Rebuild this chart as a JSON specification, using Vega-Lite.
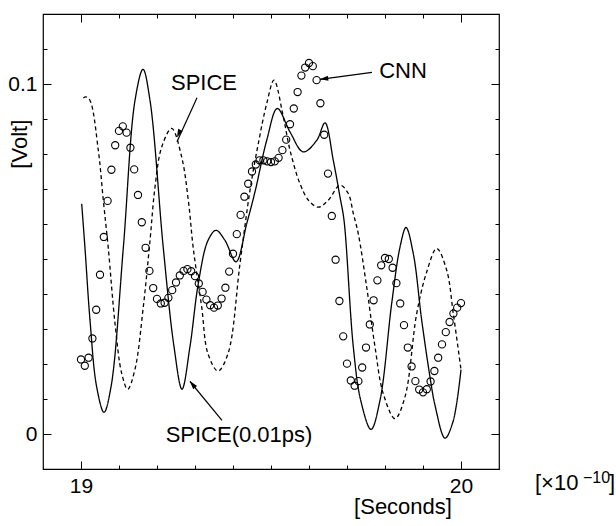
{
  "$schema": "https://vega.github.io/schema/vega-lite/v6.json",
  "autosize": {"type": "none"},
  "padding": {"left": 43, "top": 14, "right": 117, "bottom": 57},
  "width": 456,
  "height": 455,
  "background": "white",
  "config": {
    "view": {"stroke": "black", "strokeWidth": 1.2},
    "font": "Liberation Sans",
    "text": {"font": "Liberation Sans", "color": "black"}
  },
  "datasets": {
    "cnn": [
      {"t": 19.00, "v": 0.0213}, {"t": 19.01, "v": 0.0195}, {"t": 19.02, "v": 0.0218}, {"t": 19.03, "v": 0.0273},
      {"t": 19.04, "v": 0.0355}, {"t": 19.05, "v": 0.0455}, {"t": 19.06, "v": 0.0563}, {"t": 19.07, "v": 0.0666},
      {"t": 19.08, "v": 0.0755}, {"t": 19.09, "v": 0.0825}, {"t": 19.10, "v": 0.0866}, {"t": 19.11, "v": 0.0879},
      {"t": 19.12, "v": 0.0861}, {"t": 19.13, "v": 0.0818}, {"t": 19.14, "v": 0.0756}, {"t": 19.15, "v": 0.0683},
      {"t": 19.16, "v": 0.0605}, {"t": 19.17, "v": 0.0532}, {"t": 19.18, "v": 0.0466}, {"t": 19.19, "v": 0.0417},
      {"t": 19.20, "v": 0.0386}, {"t": 19.21, "v": 0.0373}, {"t": 19.22, "v": 0.0375}, {"t": 19.23, "v": 0.0389},
      {"t": 19.24, "v": 0.0411}, {"t": 19.25, "v": 0.0433}, {"t": 19.26, "v": 0.0453}, {"t": 19.27, "v": 0.0466},
      {"t": 19.28, "v": 0.0471}, {"t": 19.29, "v": 0.0465}, {"t": 19.30, "v": 0.0451}, {"t": 19.31, "v": 0.0430},
      {"t": 19.32, "v": 0.0406}, {"t": 19.33, "v": 0.0384}, {"t": 19.34, "v": 0.0368}, {"t": 19.35, "v": 0.0361},
      {"t": 19.36, "v": 0.0367}, {"t": 19.37, "v": 0.0387}, {"t": 19.38, "v": 0.0418}, {"t": 19.39, "v": 0.0464},
      {"t": 19.40, "v": 0.0515}, {"t": 19.41, "v": 0.0571}, {"t": 19.42, "v": 0.0626}, {"t": 19.43, "v": 0.0678},
      {"t": 19.44, "v": 0.0715}, {"t": 19.45, "v": 0.0750}, {"t": 19.46, "v": 0.0770}, {"t": 19.47, "v": 0.0782},
      {"t": 19.48, "v": 0.0782}, {"t": 19.49, "v": 0.0779}, {"t": 19.50, "v": 0.0777}, {"t": 19.51, "v": 0.0779},
      {"t": 19.52, "v": 0.0789}, {"t": 19.53, "v": 0.0811}, {"t": 19.54, "v": 0.0841}, {"t": 19.55, "v": 0.0885},
      {"t": 19.56, "v": 0.0930}, {"t": 19.57, "v": 0.0977}, {"t": 19.58, "v": 0.1024}, {"t": 19.59, "v": 0.1047},
      {"t": 19.60, "v": 0.1060}, {"t": 19.61, "v": 0.1051}, {"t": 19.62, "v": 0.1011}, {"t": 19.63, "v": 0.0945},
      {"t": 19.64, "v": 0.0855}, {"t": 19.65, "v": 0.0744}, {"t": 19.66, "v": 0.0623}, {"t": 19.67, "v": 0.0498},
      {"t": 19.68, "v": 0.0380}, {"t": 19.69, "v": 0.0279}, {"t": 19.70, "v": 0.0201}, {"t": 19.71, "v": 0.0153},
      {"t": 19.72, "v": 0.0138}, {"t": 19.73, "v": 0.0151}, {"t": 19.74, "v": 0.0190}, {"t": 19.75, "v": 0.0247},
      {"t": 19.76, "v": 0.0313}, {"t": 19.77, "v": 0.0382}, {"t": 19.78, "v": 0.0439}, {"t": 19.79, "v": 0.0482},
      {"t": 19.80, "v": 0.0503}, {"t": 19.81, "v": 0.0500}, {"t": 19.82, "v": 0.0475}, {"t": 19.83, "v": 0.0431},
      {"t": 19.84, "v": 0.0373}, {"t": 19.85, "v": 0.0311}, {"t": 19.86, "v": 0.0247}, {"t": 19.87, "v": 0.0193},
      {"t": 19.88, "v": 0.0151}, {"t": 19.89, "v": 0.0127}, {"t": 19.90, "v": 0.0119}, {"t": 19.91, "v": 0.0128},
      {"t": 19.92, "v": 0.0150}, {"t": 19.93, "v": 0.0180}, {"t": 19.94, "v": 0.0218}, {"t": 19.95, "v": 0.0256},
      {"t": 19.96, "v": 0.0291}, {"t": 19.97, "v": 0.0320}, {"t": 19.98, "v": 0.0344}, {"t": 19.99, "v": 0.0361},
      {"t": 20.00, "v": 0.0374}
    ],
    "curves": [
      {"s": "SPICE(0.01ps)", "t": 19.0018, "v": 0.0658},
      {"s": "SPICE(0.01ps)", "t": 19.0105, "v": 0.0531},
      {"s": "SPICE(0.01ps)", "t": 19.0237, "v": 0.0325},
      {"s": "SPICE(0.01ps)", "t": 19.0413, "v": 0.0134},
      {"s": "SPICE(0.01ps)", "t": 19.0605, "v": 0.0062},
      {"s": "SPICE(0.01ps)", "t": 19.0789, "v": 0.0134},
      {"s": "SPICE(0.01ps)", "t": 19.1113, "v": 0.0531},
      {"s": "SPICE(0.01ps)", "t": 19.1421, "v": 0.0953},
      {"s": "SPICE(0.01ps)", "t": 19.1632, "v": 0.1042},
      {"s": "SPICE(0.01ps)", "t": 19.1816, "v": 0.0953},
      {"s": "SPICE(0.01ps)", "t": 19.2166, "v": 0.0531},
      {"s": "SPICE(0.01ps)", "t": 19.2447, "v": 0.0250},
      {"s": "SPICE(0.01ps)", "t": 19.2658, "v": 0.0128},
      {"s": "SPICE(0.01ps)", "t": 19.2868, "v": 0.0250},
      {"s": "SPICE(0.01ps)", "t": 19.3087, "v": 0.0430},
      {"s": "SPICE(0.01ps)", "t": 19.3342, "v": 0.0553},
      {"s": "SPICE(0.01ps)", "t": 19.3553, "v": 0.0582},
      {"s": "SPICE(0.01ps)", "t": 19.3789, "v": 0.0553},
      {"s": "SPICE(0.01ps)", "t": 19.4080, "v": 0.0492},
      {"s": "SPICE(0.01ps)", "t": 19.4361, "v": 0.0601},
      {"s": "SPICE(0.01ps)", "t": 19.4579, "v": 0.0692},
      {"s": "SPICE(0.01ps)", "t": 19.4887, "v": 0.0839},
      {"s": "SPICE(0.01ps)", "t": 19.5166, "v": 0.0930},
      {"s": "SPICE(0.01ps)", "t": 19.5500, "v": 0.0863},
      {"s": "SPICE(0.01ps)", "t": 19.5850, "v": 0.0806},
      {"s": "SPICE(0.01ps)", "t": 19.6203, "v": 0.0839},
      {"s": "SPICE(0.01ps)", "t": 19.6421, "v": 0.0889},
      {"s": "SPICE(0.01ps)", "t": 19.6639, "v": 0.0782},
      {"s": "SPICE(0.01ps)", "t": 19.6816, "v": 0.0677},
      {"s": "SPICE(0.01ps)", "t": 19.6921, "v": 0.0611},
      {"s": "SPICE(0.01ps)", "t": 19.7166, "v": 0.0249},
      {"s": "SPICE(0.01ps)", "t": 19.7361, "v": 0.0096},
      {"s": "SPICE(0.01ps)", "t": 19.7632, "v": 0.0013},
      {"s": "SPICE(0.01ps)", "t": 19.7868, "v": 0.0096},
      {"s": "SPICE(0.01ps)", "t": 19.8176, "v": 0.0373},
      {"s": "SPICE(0.01ps)", "t": 19.8395, "v": 0.0534},
      {"s": "SPICE(0.01ps)", "t": 19.8553, "v": 0.0590},
      {"s": "SPICE(0.01ps)", "t": 19.8745, "v": 0.0515},
      {"s": "SPICE(0.01ps)", "t": 19.8966, "v": 0.0325},
      {"s": "SPICE(0.01ps)", "t": 19.9184, "v": 0.0163},
      {"s": "SPICE(0.01ps)", "t": 19.9320, "v": 0.0080},
      {"s": "SPICE(0.01ps)", "t": 19.9579, "v": -0.0012},
      {"s": "SPICE(0.01ps)", "t": 19.9789, "v": 0.0035},
      {"s": "SPICE(0.01ps)", "t": 20.0000, "v": 0.0184},
      {"s": "SPICE", "t": 19.0061, "v": 0.0960},
      {"s": "SPICE", "t": 19.0132, "v": 0.0963},
      {"s": "SPICE", "t": 19.0237, "v": 0.0953},
      {"s": "SPICE", "t": 19.0455, "v": 0.0811},
      {"s": "SPICE", "t": 19.0587, "v": 0.0668},
      {"s": "SPICE", "t": 19.0718, "v": 0.0531},
      {"s": "SPICE", "t": 19.0895, "v": 0.0316},
      {"s": "SPICE", "t": 19.1071, "v": 0.0173},
      {"s": "SPICE", "t": 19.1229, "v": 0.0128},
      {"s": "SPICE", "t": 19.1421, "v": 0.0185},
      {"s": "SPICE", "t": 19.1639, "v": 0.0363},
      {"s": "SPICE", "t": 19.1816, "v": 0.0553},
      {"s": "SPICE", "t": 19.1947, "v": 0.0705},
      {"s": "SPICE", "t": 19.2124, "v": 0.0820},
      {"s": "SPICE", "t": 19.2387, "v": 0.0873},
      {"s": "SPICE", "t": 19.2650, "v": 0.0791},
      {"s": "SPICE", "t": 19.2824, "v": 0.0668},
      {"s": "SPICE", "t": 19.2955, "v": 0.0530},
      {"s": "SPICE", "t": 19.3176, "v": 0.0363},
      {"s": "SPICE", "t": 19.3340, "v": 0.0230},
      {"s": "SPICE", "t": 19.3605, "v": 0.0180},
      {"s": "SPICE", "t": 19.3870, "v": 0.0230},
      {"s": "SPICE", "t": 19.4184, "v": 0.0487},
      {"s": "SPICE", "t": 19.4447, "v": 0.0696},
      {"s": "SPICE", "t": 19.4666, "v": 0.0830},
      {"s": "SPICE", "t": 19.4887, "v": 0.0944},
      {"s": "SPICE", "t": 19.5079, "v": 0.1011},
      {"s": "SPICE", "t": 19.5324, "v": 0.0906},
      {"s": "SPICE", "t": 19.5500, "v": 0.0811},
      {"s": "SPICE", "t": 19.5763, "v": 0.0715},
      {"s": "SPICE", "t": 19.6000, "v": 0.0666},
      {"s": "SPICE", "t": 19.6250, "v": 0.0648},
      {"s": "SPICE", "t": 19.6508, "v": 0.0668},
      {"s": "SPICE", "t": 19.6816, "v": 0.0711},
      {"s": "SPICE", "t": 19.7034, "v": 0.0687},
      {"s": "SPICE", "t": 19.7166, "v": 0.0630},
      {"s": "SPICE", "t": 19.7297, "v": 0.0572},
      {"s": "SPICE", "t": 19.7518, "v": 0.0420},
      {"s": "SPICE", "t": 19.7737, "v": 0.0249},
      {"s": "SPICE", "t": 19.7955, "v": 0.0115},
      {"s": "SPICE", "t": 19.8263, "v": 0.0044},
      {"s": "SPICE", "t": 19.8526, "v": 0.0106},
      {"s": "SPICE", "t": 19.8834, "v": 0.0344},
      {"s": "SPICE", "t": 19.9097, "v": 0.0463},
      {"s": "SPICE", "t": 19.9361, "v": 0.0530},
      {"s": "SPICE", "t": 19.9624, "v": 0.0468},
      {"s": "SPICE", "t": 19.9797, "v": 0.0344},
      {"s": "SPICE", "t": 20.0000, "v": 0.0184}
    ],
    "notes": [
      {"label": "SPICE", "t": 19.3237, "v": 0.1002},
      {"label": "CNN", "t": 19.8474, "v": 0.1036},
      {"label": "SPICE(0.01ps)", "t": 19.4158, "v": -0.0004},
      {"label": "[Seconds]", "t": 19.8474, "v": -0.0209}
    ],
    "arrows": [
      {"t": 19.3053, "v": 0.0961, "t2": 19.2526, "v2": 0.0835, "ht": 19.2571, "hv": 0.0858, "dir": 204},
      {"t": 19.7658, "v": 0.1033, "t2": 19.6289, "v2": 0.1013, "ht": 19.6395, "hv": 0.1015, "dir": 262},
      {"t": 19.3710, "v": 0.0039, "t2": 19.2868, "v2": 0.0150, "ht": 19.2934, "hv": 0.0142, "dir": 321}
    ]
  },
  "resolve": {"axis": {"x": "independent", "y": "independent"}},
  "layer": [
    {
      "data": {"name": "cnn"},
      "mark": {"type": "point", "shape": "circle", "filled": false, "stroke": "black", "strokeWidth": 1.1, "size": 52, "opacity": 1},
      "encoding": {
        "x": {"field": "t", "type": "quantitative",
          "scale": {"domain": [18.9, 20.1], "nice": false, "zero": false},
          "axis": {"orient": "bottom", "title": null, "domain": false, "grid": false,
            "values": [19, 19.1, 19.2, 19.3, 19.4, 19.5, 19.6, 19.7, 19.8, 19.9, 20],
            "tickColor": "black", "tickWidth": 1,
            "tickSize": {"condition": {"test": "abs(datum.value - round(datum.value)) < 0.001", "value": -8}, "value": -4},
            "labelExpr": "abs(datum.value - round(datum.value)) < 0.001 ? format(datum.value, 'd') : ''",
            "labelOverlap": false, "labelFlush": false,
            "labelFont": "Liberation Sans", "labelFontSize": 21, "labelColor": "black", "labelPadding": 14}},
        "y": {"field": "v", "type": "quantitative",
          "scale": {"domain": [-0.01, 0.12], "nice": false, "zero": false},
          "axis": {"orient": "left", "title": null, "domain": false, "grid": false,
            "values": [0, 0.01, 0.02, 0.03, 0.04, 0.05, 0.06, 0.07, 0.08, 0.09, 0.1, 0.11],
            "tickColor": "black", "tickWidth": 1,
            "tickSize": {"condition": {"test": "abs(datum.value * 10 - round(datum.value * 10)) < 0.001", "value": -8}, "value": -4},
            "labelExpr": "abs(datum.value * 10 - round(datum.value * 10)) < 0.001 ? (datum.value < 0.05 ? '0' : '0.1') : ''",
            "labelOverlap": false, "labelFlush": false,
            "labelFont": "Liberation Sans", "labelFontSize": 21, "labelColor": "black", "labelPadding": 14}}
      }
    },
    {
      "data": {"name": "curves"},
      "mark": {"type": "line", "interpolate": "catmull-rom", "color": "black", "strokeWidth": 1.3},
      "encoding": {
        "x": {"field": "t", "type": "quantitative",
          "scale": {"domain": [18.9, 20.1], "nice": false, "zero": false},
          "axis": {"orient": "top", "title": null, "domain": false, "grid": false, "labels": false,
            "values": [19, 19.1, 19.2, 19.3, 19.4, 19.5, 19.6, 19.7, 19.8, 19.9, 20],
            "tickColor": "black", "tickWidth": 1,
            "tickSize": {"condition": {"test": "abs(datum.value - round(datum.value)) < 0.001", "value": -8}, "value": -4}}},
        "y": {"field": "v", "type": "quantitative",
          "scale": {"domain": [-0.01, 0.12], "nice": false, "zero": false},
          "axis": {"orient": "right", "title": null, "domain": false, "grid": false, "labels": false,
            "values": [0, 0.01, 0.02, 0.03, 0.04, 0.05, 0.06, 0.07, 0.08, 0.09, 0.1, 0.11],
            "tickColor": "black", "tickWidth": 1,
            "tickSize": {"condition": {"test": "abs(datum.value * 10 - round(datum.value * 10)) < 0.001", "value": -8}, "value": -4}}},
        "detail": {"field": "s", "type": "nominal"},
        "strokeDash": {"field": "s", "type": "nominal",
          "scale": {"domain": ["SPICE(0.01ps)", "SPICE"], "range": [[1, 0], [4, 3]]}, "legend": null}
      }
    },
    {
      "data": {"name": "arrows"},
      "mark": {"type": "rule", "color": "black", "strokeWidth": 1.2},
      "encoding": {
        "x": {"field": "t", "type": "quantitative", "scale": {"domain": [18.9, 20.1], "nice": false, "zero": false}, "axis": null},
        "y": {"field": "v", "type": "quantitative", "scale": {"domain": [-0.01, 0.12], "nice": false, "zero": false}, "axis": null},
        "x2": {"field": "t2"},
        "y2": {"field": "v2"}
      }
    },
    {
      "data": {"name": "arrows"},
      "mark": {"type": "point", "shape": "M0,-1L0.6,1L-0.6,1Z", "filled": true, "color": "black", "size": 70, "opacity": 1},
      "encoding": {
        "x": {"field": "ht", "type": "quantitative", "scale": {"domain": [18.9, 20.1], "nice": false, "zero": false}, "axis": null},
        "y": {"field": "hv", "type": "quantitative", "scale": {"domain": [-0.01, 0.12], "nice": false, "zero": false}, "axis": null},
        "angle": {"field": "dir", "type": "quantitative", "scale": null}
      }
    },
    {
      "data": {"name": "notes"},
      "mark": {"type": "text", "font": "Liberation Sans", "fontSize": 22, "align": "center", "baseline": "middle", "color": "black"},
      "encoding": {
        "x": {"field": "t", "type": "quantitative", "scale": {"domain": [18.9, 20.1], "nice": false, "zero": false}, "axis": null},
        "y": {"field": "v", "type": "quantitative", "scale": {"domain": [-0.01, 0.12], "nice": false, "zero": false}, "axis": null},
        "text": {"field": "label"}
      }
    },
    {
      "data": {"values": [{"label": "[Volt]", "t": 18.8395, "v": 0.0828}]},
      "mark": {"type": "text", "font": "Liberation Sans", "fontSize": 22, "align": "center", "baseline": "middle", "angle": 270, "color": "black"},
      "encoding": {
        "x": {"field": "t", "type": "quantitative", "scale": {"domain": [18.9, 20.1], "nice": false, "zero": false}, "axis": null},
        "y": {"field": "v", "type": "quantitative", "scale": {"domain": [-0.01, 0.12], "nice": false, "zero": false}, "axis": null},
        "text": {"field": "label"}
      }
    },
    {
      "data": {"values": [{"label": "[×10", "t": 20.1947, "v": -0.0161}, {"label": "]", "t": 20.3895, "v": -0.0161}]},
      "mark": {"type": "text", "font": "Liberation Sans", "fontSize": 22, "align": "left", "baseline": "alphabetic", "color": "black"},
      "encoding": {
        "x": {"field": "t", "type": "quantitative", "scale": {"domain": [18.9, 20.1], "nice": false, "zero": false}, "axis": null},
        "y": {"field": "v", "type": "quantitative", "scale": {"domain": [-0.01, 0.12], "nice": false, "zero": false}, "axis": null},
        "text": {"field": "label"}
      }
    },
    {
      "data": {"values": [{"label": "−10", "t": 20.3211, "v": -0.0139}]},
      "mark": {"type": "text", "font": "Liberation Sans", "fontSize": 16, "align": "left", "baseline": "alphabetic", "color": "black"},
      "encoding": {
        "x": {"field": "t", "type": "quantitative", "scale": {"domain": [18.9, 20.1], "nice": false, "zero": false}, "axis": null},
        "y": {"field": "v", "type": "quantitative", "scale": {"domain": [-0.01, 0.12], "nice": false, "zero": false}, "axis": null},
        "text": {"field": "label"}
      }
    }
  ]
}
